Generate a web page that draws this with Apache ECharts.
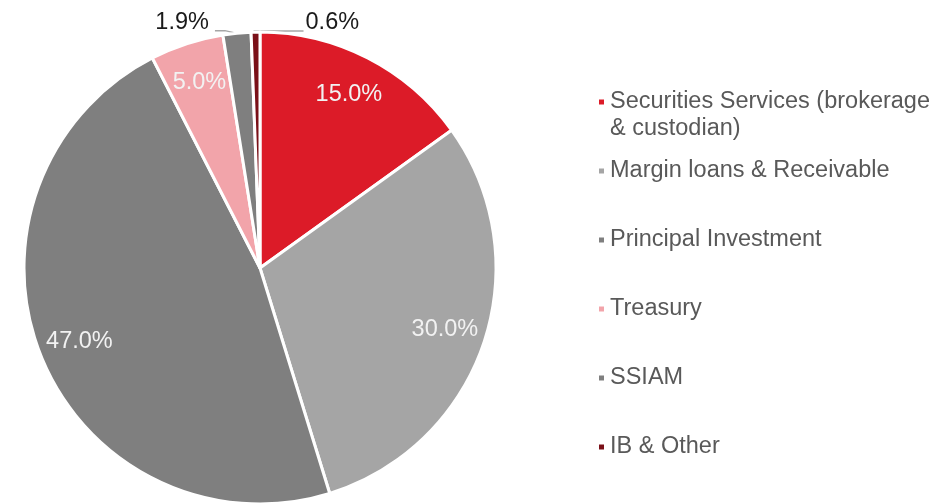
<!DOCTYPE html>
<html>
<head>
<meta charset="utf-8">
<title>ECharts</title>
<script src="https://cdn.jsdelivr.net/npm/echarts@6/dist/echarts.min.js"></script>
</head>
<body style="margin:0">
<div id="main" style="width: 939px; height: 503px;"></div>
<script type="text/javascript">
// segment names and shares (%)
var categories = ['Securities Services (brokerage\n& custodian)', 'Margin loans & Receivable',
  'Principal Investment', 'Treasury', 'SSIAM', 'IB & Other'];
var shares = [15.0, 30.0, 47.0, 5.0, 1.9, 0.6];
var colors = ['#DC1B28', '#A5A5A5', '#7F7F7F', '#F2A4AA', '#7F7F7F', '#7A1018'];

var myChart = echarts.init(document.getElementById('main'));

var font = '"Liberation Sans", Arial, sans-serif';

// main pie: big slices unlabeled here, small ones get outside labels
var pieData = [];
var labelData = [];
for (var i = 0; i < categories.length; i++) {
  var small = shares[i] < 3;
  pieData.push({
    name: categories[i],
    value: shares[i],
    itemStyle: { color: colors[i] },
    label: { show: small },
    labelLine: { show: small }
  });
  labelData.push({
    name: categories[i],
    value: shares[i],
    label: { show: !small }
  });
}

var legendText = { fontFamily: font, fontSize: 23.5, color: '#595959', lineHeight: 27 };

function pct(p) { return p.value.toFixed(1) + '%'; }

var option = {
  animation: false,
  legend: [{
    // first entry wraps; a blank leading line keeps its icon on the first line
    orient: 'vertical',
    left: 597,
    top: 61.5,
    padding: 0,
    itemWidth: 7,
    itemHeight: 7,
    icon: 'rect',
    selectedMode: false,
    textStyle: legendText,
    formatter: function (name) { return '\n' + name; },
    data: categories.slice(0, 1)
  }, {
    orient: 'vertical',
    left: 597,
    top: 157.5,
    padding: 0,
    itemGap: 42,
    itemWidth: 7,
    itemHeight: 7,
    icon: 'rect',
    selectedMode: false,
    textStyle: legendText,
    data: categories.slice(1)
  }],
  series: [{
    name: 'main',
    type: 'pie',
    center: [260, 268],
    radius: [0, 236],
    startAngle: 90,
    clockwise: true,
    avoidLabelOverlap: false,
    silent: true,
    itemStyle: { borderColor: '#ffffff', borderWidth: 3 },
    label: {
      position: 'outside',
      formatter: pct,
      fontFamily: font, fontSize: 23.5, color: '#1a1a1a'
    },
    labelLine: {
      lineStyle: { color: '#A6A6A6', width: 1.5 },
      length: 10, length2: 10, minTurnAngle: 0, maxSurfaceAngle: 180
    },
    labelLayout: function (p) {
      var lay = myChart.getModel().getSeriesByIndex(0).getData().getItemLayout(p.dataIndex);
      if (!lay) return;
      var mid = (lay.startAngle + lay.endAngle) / 2;
      var ax = lay.cx + lay.r * Math.cos(mid);
      var ay = lay.cy + lay.r * Math.sin(mid);
      if (p.dataIndex === 4) {
        return {
          x: ax - 28, y: ay - 11, align: 'right', verticalAlign: 'middle',
          labelLinePoints: [[ax - 1, ay], [ax - 12, ay - 2.5], [ax - 22, ay - 2.5]]
        };
      }
      if (p.dataIndex === 5) {
        return {
          x: ax + 50, y: ay - 10, align: 'left', verticalAlign: 'middle',
          labelLinePoints: [[ax - 2, ay - 1], [ax + 23, ay - 1], [ax + 48, ay - 1]]
        };
      }
    },
    data: pieData
  }, {
    name: 'labels',
    type: 'pie',
    center: [260, 268],
    radius: [0, 384],
    startAngle: 90,
    clockwise: true,
    silent: true,
    itemStyle: { color: 'rgba(0,0,0,0)', borderWidth: 0 },
    label: {
      position: 'inside',
      formatter: pct,
      fontFamily: font, fontSize: 23.5, color: '#F2F2F2'
    },
    labelLine: { show: false },
    data: labelData
  }]
};

myChart.setOption(option);
</script>
</body>
</html>
